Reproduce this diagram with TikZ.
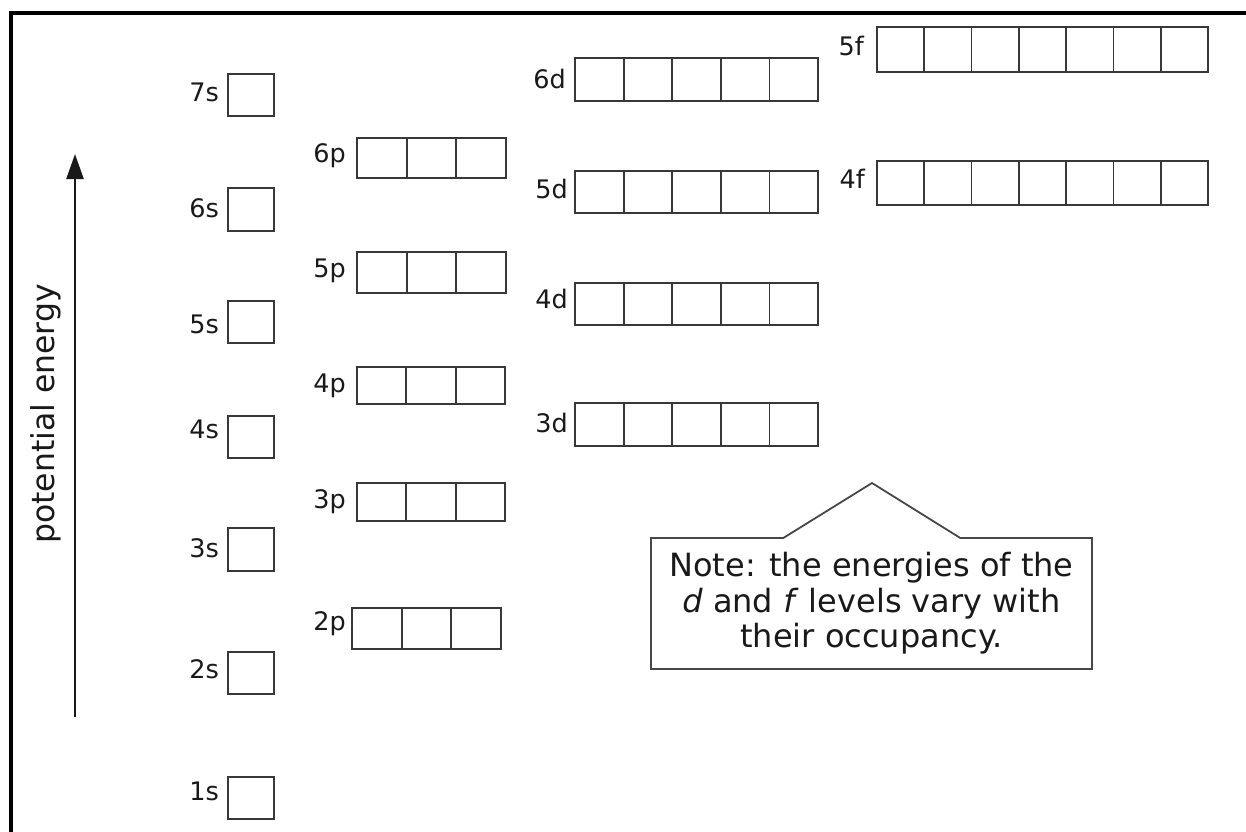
\documentclass[tikz,border=0pt]{standalone}
\usepackage{fontspec}
\setmainfont{DejaVu Sans}
\usetikzlibrary{arrows.meta,shapes.callouts}
\tikzset{
  cell/.style={draw=black!78, line width=1.8pt, inner sep=0pt, outer sep=0pt, anchor=north west},
  lbl/.style={font=\fontsize{25.5}{30}\selectfont, text=black!90, inner sep=0pt, anchor=base east},
  frameline/.style={line width=3.2pt, black},
  energyarrow/.style={line width=2.5pt, black!90, -{Triangle[length=25pt,width=17pt]}},
  notebox/.style={rectangle callout, draw=black!72, line width=1.8pt, fill=white,
    minimum width=441pt, minimum height=131pt, inner sep=0pt, align=center,
    text=black!90, font=\fontsize{32}{35.5}\selectfont, callout pointer width=177pt},
}
\newcommand\orbital[9]{%
  \pgfmathsetmacro\orbcw{(#5-#3)/#7}%
  \pgfmathsetmacro\orbch{#6-#4}%
  \foreach \i in {1,...,#7}{%
    \node[cell, minimum width=\orbcw pt, minimum height=\orbch pt] (#1-\i) at ({#3+(\i-1)*\orbcw}, #4) {};
  }%
  \node[lbl] (#1-lbl) at (#8,#9) {#2};
}
\begin{document}
\begin{tikzpicture}[x=1pt,y=-1pt]
\useasboundingbox (0,0) rectangle (1246,831);
\fill[white] (0,0) rectangle (1246,831);
% frame
\coordinate (fbl) at (11,833);
\coordinate (ftl) at (11,13);
\coordinate (ftr) at (1248,13);
\draw[frameline] (fbl) -- (ftl) -- (ftr);
% energy axis
\coordinate (ebot) at (75,717);
\coordinate (etop) at (75,154);
\draw[energyarrow] (ebot) -- (etop);
\node[rotate=90, font=\fontsize{31.5}{36}\selectfont, text=black!90] (pe) at (45.5,414) {potential energy};
% s levels
\orbital{s7}{7s}{228}{74}{274}{116}{1}{219}{101}
\orbital{s6}{6s}{228}{188}{274}{231}{1}{219}{217}
\orbital{s5}{5s}{228}{301}{274}{343}{1}{219}{333}
\orbital{s4}{4s}{228}{416}{274}{458}{1}{219}{438}
\orbital{s3}{3s}{228}{528}{274}{571}{1}{219}{557}
\orbital{s2}{2s}{228}{652}{274}{694}{1}{219}{678}
\orbital{s1}{1s}{228}{777}{274}{819}{1}{219}{800}
% p levels
\orbital{p6}{6p}{357}{138}{506}{178}{3}{346}{162}
\orbital{p5}{5p}{357}{252}{506}{293}{3}{346}{277}
\orbital{p4}{4p}{357}{367}{505}{404}{3}{346}{392}
\orbital{p3}{3p}{357}{483}{505}{521}{3}{346}{508}
\orbital{p2}{2p}{352}{608}{501}{649}{3}{346}{630}
% d levels
\orbital{d6}{6d}{575}{58}{818}{101}{5}{566}{88}
\orbital{d5}{5d}{575}{171}{818}{213}{5}{568}{198}
\orbital{d4}{4d}{575}{283}{818}{325}{5}{568}{308}
\orbital{d3}{3d}{575}{403}{818}{446}{5}{568}{432}
% f levels
\orbital{f5}{5f}{877}{27}{1208}{72}{7}{864}{55}
\orbital{f4}{4f}{877}{161}{1208}{205}{7}{865}{188}
% note
\coordinate (tip) at (872,483);
\node[notebox, callout absolute pointer=(tip)] (note) at (871.5,603.5)
  {Note: the energies of the\\ \textit{d} and \textit{f} levels vary with\\ their occupancy.};
\end{tikzpicture}
\end{document}
